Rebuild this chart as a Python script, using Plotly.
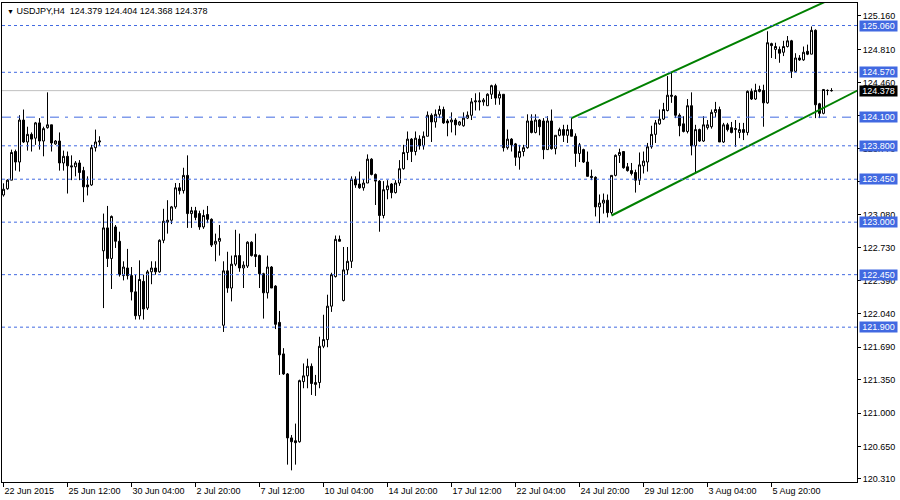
import plotly.graph_objects as go

# ---------------- data (USDJPY H4) ----------------
bars = list(range(208))

opens = [
    123.285, 123.35, 123.44, 123.74, 123.63, 124.07, 123.84, 123.92, 123.88, 124.04,
    123.85, 123.99, 124.02, 123.82, 123.85, 123.62, 123.69, 123.59, 123.58, 123.62,
    123.54, 123.39, 123.39, 123.78, 123.84, 122.70, 122.94, 122.62, 122.95, 122.80,
    122.44, 122.52, 122.44, 122.27, 122.02, 122.38, 122.10, 122.48, 122.52, 122.48,
    122.81, 123.00, 123.02, 123.16, 123.36, 123.33, 123.49, 123.09, 123.12, 123.09,
    122.95, 123.08, 123.03, 122.77, 122.80, 121.92, 122.49, 122.31, 122.56, 122.65,
    122.52, 122.54, 122.79, 122.66, 122.65, 122.46, 122.26, 122.53, 122.33, 121.95,
    121.62, 121.41, 120.74, 120.71, 120.70, 121.33, 121.39, 121.49, 121.30, 121.32,
    121.70, 121.77, 122.12, 122.43, 122.82, 122.18, 122.50, 122.59, 123.45, 123.40,
    123.36, 123.41, 123.66, 123.50, 123.43, 123.07, 123.34, 123.40, 123.31, 123.41,
    123.56, 123.73, 123.87, 123.74, 123.87, 123.80, 123.90, 124.12, 124.05, 124.13,
    124.18, 124.06, 124.05, 124.07, 124.02, 124.01, 124.09, 124.12, 124.26, 124.26,
    124.26, 124.22, 124.34, 124.43, 124.30, 124.34, 123.78, 123.87, 123.82, 123.68,
    123.74, 123.78, 124.06, 123.94, 124.07, 124.06, 123.76, 124.06, 123.77, 123.91,
    123.97, 123.91, 123.97, 123.90, 123.72, 123.76, 123.63, 123.48, 123.47, 123.16,
    123.20, 123.23, 123.10, 123.49, 123.70, 123.74, 123.58, 123.54, 123.52, 123.44,
    123.59, 123.63, 123.79, 123.92, 124.03, 124.08, 124.17, 124.33, 124.32, 124.12,
    124.03, 123.95, 124.22, 123.80, 123.97, 123.85, 123.99, 124.00, 124.15, 124.18,
    123.84, 124.02, 123.99, 123.97, 123.94, 123.97, 123.94, 124.37, 124.29, 124.37,
    124.38, 124.25, 124.87, 124.81, 124.81, 124.78, 124.84, 124.90, 124.58, 124.72,
    124.70, 124.79, 124.76, 125.01, 124.24, 124.14, 124.38, 124.379,
]

highs = [
    123.407, 123.45, 123.76, 123.76, 124.12, 124.18, 124.00, 123.94, 124.05, 124.09,
    124.00, 124.36, 124.02, 123.86, 123.94, 123.75, 123.74, 123.70, 123.64, 123.65,
    123.58, 123.48, 123.81, 123.97, 123.90, 123.09, 123.17, 123.07, 122.97, 122.90,
    122.59, 122.72, 122.53, 122.45, 122.60, 122.45, 122.50, 122.59, 122.59, 122.82,
    123.14, 123.23, 123.17, 123.41, 123.41, 123.57, 123.70, 123.16, 123.16, 123.12,
    123.13, 123.17, 123.04, 122.88, 122.97, 122.59, 122.69, 122.65, 122.92, 122.88,
    122.59, 122.80, 122.80, 122.88, 122.66, 122.47, 122.65, 122.54, 122.34, 122.07,
    121.68, 121.42, 120.77, 120.89, 121.35, 121.52, 121.57, 121.52, 121.40, 121.80,
    122.03, 122.24, 122.47, 122.86, 122.86, 122.74, 122.74, 123.48, 123.48, 123.53,
    123.45, 123.71, 123.67, 123.51, 123.44, 123.43, 123.44, 123.41, 123.44, 123.65,
    123.81, 123.95, 123.88, 123.95, 123.91, 123.95, 124.16, 124.14, 124.18, 124.22,
    124.21, 124.08, 124.15, 124.09, 124.06, 124.15, 124.16, 124.30, 124.35, 124.36,
    124.30, 124.35, 124.44, 124.45, 124.37, 124.34, 123.97, 123.88, 123.83, 123.81,
    123.81, 124.13, 124.13, 124.13, 124.08, 124.09, 124.11, 124.18, 123.91, 123.99,
    124.02, 124.02, 124.09, 123.93, 123.83, 123.77, 123.74, 123.55, 123.48, 123.29,
    123.30, 123.29, 123.49, 123.71, 123.77, 123.74, 123.62, 123.62, 123.55, 123.73,
    123.74, 123.83, 124.01, 124.07, 124.18, 124.25, 124.53, 124.57, 124.33, 124.14,
    124.11, 124.29, 124.36, 124.02, 123.98, 124.11, 124.07, 124.18, 124.26, 124.21,
    124.04, 124.04, 124.05, 124.07, 124.04, 124.04, 124.38, 124.40, 124.45, 124.43,
    124.44, 125.00, 124.88, 124.88, 124.84, 124.90, 124.95, 124.91, 124.77, 124.75,
    124.84, 124.86, 125.05, 125.02, 124.25, 124.39, 124.39, 124.404,
]

lows = [
    123.268, 123.34, 123.44, 123.54, 123.53, 123.83, 123.75, 123.74, 123.81, 123.76,
    123.69, 123.98, 123.74, 123.81, 123.54, 123.54, 123.30, 123.44, 123.48, 123.44,
    123.21, 123.28, 123.38, 123.74, 123.80, 122.10, 122.53, 122.30, 122.73, 122.43,
    122.39, 122.40, 122.18, 121.98, 121.98, 121.98, 122.08, 122.35, 122.45, 122.47,
    122.78, 122.88, 122.98, 123.14, 123.29, 123.30, 122.94, 122.94, 123.02, 122.92,
    122.93, 122.99, 122.74, 122.59, 122.65, 121.85, 122.26, 122.17, 122.54, 122.48,
    122.31, 122.52, 122.64, 122.53, 122.31, 121.99, 122.20, 122.31, 121.88, 121.40,
    121.40, 120.46, 120.40, 120.46, 120.69, 121.26, 121.26, 121.19, 121.18, 121.26,
    121.68, 121.69, 122.06, 122.42, 122.80, 122.17, 122.45, 122.52, 123.36, 123.35,
    123.33, 123.41, 123.49, 123.18, 122.90, 123.04, 123.24, 123.25, 123.30, 123.38,
    123.55, 123.65, 123.63, 123.70, 123.76, 123.76, 123.90, 123.84, 123.99, 124.09,
    124.03, 123.90, 123.94, 123.91, 124.01, 124.00, 124.08, 124.07, 124.17, 124.17,
    124.22, 124.22, 124.29, 124.23, 124.23, 123.74, 123.76, 123.74, 123.59, 123.55,
    123.69, 123.77, 123.93, 123.93, 123.91, 123.66, 123.76, 123.76, 123.71, 123.90,
    123.84, 123.83, 123.90, 123.58, 123.63, 123.62, 123.48, 123.44, 123.06, 122.99,
    123.09, 123.05, 123.08, 123.48, 123.62, 123.56, 123.53, 123.49, 123.31, 123.39,
    123.51, 123.53, 123.77, 123.83, 124.02, 124.07, 124.16, 124.25, 124.09, 123.90,
    123.94, 123.93, 123.70, 123.52, 123.84, 123.84, 123.97, 123.98, 124.10, 123.84,
    123.83, 123.95, 123.93, 123.79, 123.88, 123.86, 123.91, 124.28, 124.28, 124.36,
    124.00, 124.24, 124.72, 124.71, 124.67, 124.74, 124.83, 124.51, 124.57, 124.69,
    124.69, 124.75, 124.76, 124.09, 124.09, 124.13, 124.33, 124.368,
]

closes = [
    123.345, 123.44, 123.73, 123.63, 124.07, 123.84, 123.92, 123.87, 124.04, 123.85,
    123.98, 124.02, 123.83, 123.85, 123.62, 123.69, 123.59, 123.58, 123.62, 123.52,
    123.37, 123.37, 123.78, 123.84, 123.85, 122.94, 122.62, 123.06, 122.80, 122.45,
    122.53, 122.44, 122.27, 122.02, 122.40, 122.09, 122.48, 122.52, 122.48, 122.81,
    123.01, 123.02, 123.16, 123.36, 123.33, 123.49, 123.09, 123.12, 123.05, 122.95,
    123.07, 123.03, 122.76, 122.80, 122.83, 122.49, 122.31, 122.56, 122.65, 122.52,
    122.55, 122.79, 122.65, 122.64, 122.46, 122.26, 122.53, 122.31, 121.93, 121.61,
    121.41, 120.74, 120.70, 120.69, 121.34, 121.39, 121.49, 121.31, 121.32, 121.70,
    121.77, 122.12, 122.45, 122.82, 122.80, 122.50, 122.59, 123.45, 123.39, 123.36,
    123.41, 123.66, 123.50, 123.43, 123.07, 123.34, 123.38, 123.31, 123.41, 123.56,
    123.73, 123.87, 123.74, 123.88, 123.80, 123.90, 124.12, 124.05, 124.13, 124.18,
    124.04, 124.04, 124.07, 124.02, 124.05, 124.09, 124.12, 124.26, 124.27, 124.27,
    124.28, 124.34, 124.43, 124.30, 124.34, 123.78, 123.87, 123.81, 123.68, 123.74,
    123.78, 124.06, 123.94, 124.07, 124.00, 123.76, 124.06, 123.77, 123.91, 123.97,
    123.91, 123.97, 123.90, 123.72, 123.81, 123.63, 123.48, 123.47, 123.16, 123.20,
    123.23, 123.10, 123.49, 123.70, 123.73, 123.57, 123.54, 123.51, 123.44, 123.60,
    123.64, 123.79, 123.92, 124.04, 124.08, 124.18, 124.33, 124.32, 124.12, 124.01,
    123.95, 124.22, 123.80, 123.97, 123.85, 124.02, 124.02, 124.15, 124.18, 123.84,
    124.02, 123.97, 123.94, 123.98, 123.97, 123.94, 124.37, 124.29, 124.38, 124.39,
    124.25, 124.88, 124.85, 124.84, 124.77, 124.84, 124.90, 124.58, 124.72, 124.70,
    124.78, 124.76, 125.01, 124.23, 124.14, 124.39, 124.38, 124.378,
]

time_tick_bars = [0, 16, 32, 48, 64, 80, 96, 112, 128, 144, 160, 176, 192]
time_tick_labels = ["22 Jun 2015", "25 Jun 12:00", "30 Jun 04:00", "2 Jul 20:00",
                    "7 Jul 12:00", "10 Jul 04:00", "14 Jul 20:00", "17 Jul 12:00",
                    "22 Jul 04:00", "24 Jul 20:00", "29 Jul 12:00", "3 Aug 04:00",
                    "5 Aug 20:00"]

price_ticks = [125.16, 124.81, 124.46, 124.12, 123.77, 123.43, 123.08, 122.73,
               122.39, 122.04, 121.69, 121.35, 121.00, 120.65, 120.31]

level_prices = [125.06, 124.57, 124.10, 123.80, 123.45, 123.00, 122.45, 121.90]
level_styles = ["dot", "dot", "dashdot", "dot", "dot", "dot", "dot", "dot"]

bid_price = 124.378

upper_channel_bars = [142, 206]
upper_channel_prices = [124.09, 125.32]
lower_channel_bars = [152, 214]
lower_channel_prices = [123.07, 124.39]

symbol_title = "USDJPY,H4"
last_ohlc = ["124.379", "124.404", "124.368", "124.378"]

# ---------------- figure ----------------
FONT = "Liberation Sans, Arial, sans-serif"
FS = 9
BLUE = "#4169E1"

fig = go.Figure()
fig.add_trace(go.Candlestick(
    x=bars, open=opens, high=highs, low=lows, close=closes,
    increasing=dict(line=dict(color="black", width=1), fillcolor="white"),
    decreasing=dict(line=dict(color="black", width=1), fillcolor="black"),
    whiskerwidth=0, hoverinfo="skip", showlegend=False,
))

fig.add_trace(go.Scatter(x=upper_channel_bars, y=upper_channel_prices, mode="lines",
                         line=dict(color="#008000", width=2), hoverinfo="skip",
                         showlegend=False))
fig.add_trace(go.Scatter(x=lower_channel_bars, y=lower_channel_prices, mode="lines",
                         line=dict(color="#008000", width=2), hoverinfo="skip",
                         showlegend=False))

dash_map = {"dot": "3px,3px", "dashdot": "9px,6px,3px,6px"}
shapes = []
annotations = []
shapes.append(dict(type="line", xref="paper", x0=0, x1=1, yref="y", y0=bid_price, y1=bid_price,
                   line=dict(color="#C0C0C0", width=1), layer="below"))
for p, s in zip(level_prices, level_styles):
    shapes.append(dict(type="line", xref="paper", x0=0, x1=1, yref="y", y0=p, y1=p,
                       line=dict(color=BLUE, width=1, dash=dash_map[s])))
    annotations.append(dict(xref="paper", x=1, xanchor="left", xshift=2, yref="y", y=p,
                            yanchor="middle", text=f"{p:.3f}", showarrow=False,
                            bgcolor=BLUE, font=dict(family=FONT, size=FS, color="white"),
                            width=37, height=10, align="center", borderpad=0))
annotations.append(dict(xref="paper", x=1, xanchor="left", xshift=2, yref="y", y=bid_price,
                        yanchor="middle", text=f"{bid_price:.3f}", showarrow=False,
                        bgcolor="black", font=dict(family=FONT, size=FS, color="white"),
                        width=37, height=10, align="center", borderpad=0))
annotations.append(dict(xref="paper", x=0, xanchor="left", xshift=3, yref="paper", y=1,
                        yanchor="top", yshift=-1,
                        text="<span style='font-size:7px'>▼</span> " + symbol_title
                             + "\u00a0\u00a0" + " ".join(last_ohlc),
                        showarrow=False, font=dict(family=FONT, size=FS, color="black")))

fig.update_layout(
    width=900, height=500,
    margin=dict(l=2, r=43, t=3, b=18),
    paper_bgcolor="white", plot_bgcolor="white",
    shapes=shapes, annotations=annotations,
    font=dict(family=FONT, size=FS, color="black"),
    showlegend=False, hovermode=False,
    boxgap=0.5, boxgroupgap=0,
    xaxis=dict(range=[-0.375, 213.375], showgrid=False, zeroline=False,
               showline=True, linecolor="black", linewidth=1, mirror=True,
               tickvals=time_tick_bars, ticktext=time_tick_labels,
               ticks="outside", ticklen=4, tickcolor="black",
               ticklabelposition="outside right",
               tickfont=dict(family=FONT, size=FS, color="black"),
               rangeslider=dict(visible=False)),
    yaxis=dict(range=[120.278, 125.296], side="right", showgrid=False, zeroline=False,
               showline=True, linecolor="black", linewidth=1, mirror=True,
               tickvals=price_ticks, ticktext=[f"{v:.3f}" for v in price_ticks],
               ticks="outside", ticklen=3, tickcolor="black",
               tickfont=dict(family=FONT, size=FS, color="black")),
)

fig.write_html("out.html", config=dict(displayModeBar=False),
               post_script="document.body.style.margin='0';document.body.style.overflow='hidden';")
